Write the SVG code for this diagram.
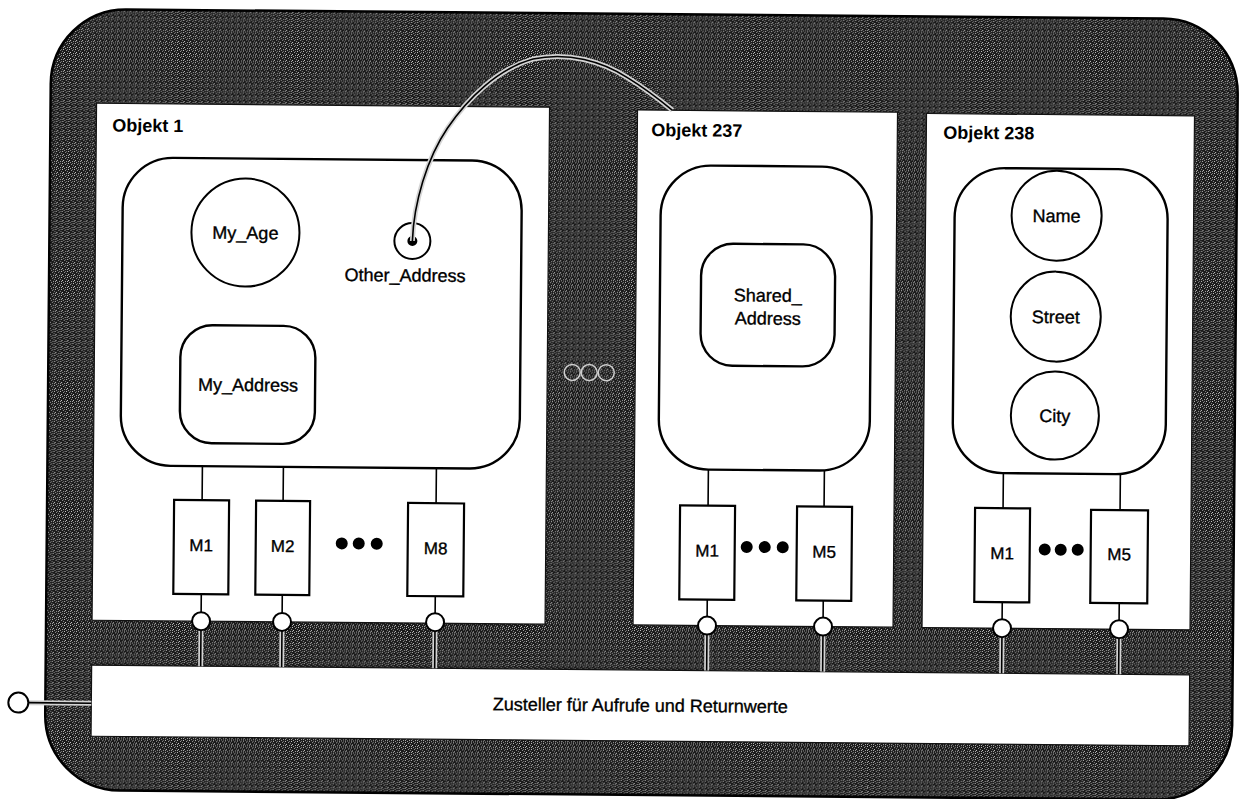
<svg xmlns="http://www.w3.org/2000/svg" width="1239" height="799" viewBox="0 0 1239 799">
<defs>
<pattern id="grain" width="6" height="6" patternUnits="userSpaceOnUse">
<rect width="6" height="6" fill="#1a1a1a"/>
<rect x="0" y="0" width="1" height="1" fill="#c8c8c8"/>
<rect x="3" y="1" width="1" height="1" fill="#9a9a9a"/>
<rect x="1" y="3" width="1" height="1" fill="#d0d0d0"/>
<rect x="4" y="4" width="1" height="1" fill="#aaa"/>
<rect x="5" y="2" width="1" height="1" fill="#888"/>
<rect x="2" y="5" width="1" height="1" fill="#a0a0a0"/>
<rect x="4" y="0" width="1" height="1" fill="#777"/>
<rect x="0" y="4" width="1" height="1" fill="#b0b0b0"/>
</pattern>
<style>
.box{fill:#fff;stroke:#111;stroke-width:1.2}
.inner{fill:#fff;stroke:#000;stroke-width:2.4}
.attr{fill:#fff;stroke:#000;stroke-width:2}
.meth{fill:#fff;stroke:#000;stroke-width:2.2}
.port{fill:#fff;stroke:#000;stroke-width:2}
.dot{fill:#000}
.ln{stroke:#000;stroke-width:1.6;fill:none}
.halo{stroke:#d4d4d4;stroke-width:5;fill:none}
.t{font-family:"Liberation Sans",Arial,Helvetica,sans-serif;font-size:18px;fill:#000;stroke:#000;stroke-width:0.35;text-anchor:middle}
.tb{font-family:"Liberation Sans",Arial,Helvetica,sans-serif;font-size:18px;font-weight:bold;fill:#000}
.tm{font-family:"Liberation Sans",Arial,Helvetica,sans-serif;font-size:17px;fill:#000;stroke:#000;stroke-width:0.35;text-anchor:middle}
</style>
</defs>
<g transform="rotate(0.5 640 400)">
<g id="frame">
<rect x="48" y="14" width="1187" height="781" rx="75" fill="url(#grain)" stroke="#000" stroke-width="2.5"/>
<circle cx="572" cy="373" r="8" fill="none" stroke="#cfcfcf" stroke-width="1.5"/>
<circle cx="589" cy="373" r="8" fill="none" stroke="#cfcfcf" stroke-width="1.5"/>
<circle cx="606" cy="373" r="8" fill="none" stroke="#cfcfcf" stroke-width="1.5"/>
</g>
<g id="objekt1">
<rect class="box" x="94" y="108" width="453" height="517"/>
<text class="tb" x="110" y="136">Objekt 1</text>
<rect class="inner" x="121" y="162" width="399" height="308" rx="50"/>
<circle class="attr" cx="244" cy="236" r="54"/>
<text class="t" x="244" y="242.5">My_Age</text>
<circle class="attr" cx="411" cy="243" r="18"/>
<circle class="dot" cx="411" cy="243" r="5"/>
<text class="t" x="404" y="283.5">Other_Address</text>
<rect class="inner" x="180" y="329" width="135" height="118" rx="32"/>
<text class="t" x="248" y="394.5">My_Address</text>
<rect class="meth" x="175" y="504" width="55" height="94"/>
<text class="tm" x="202.5" y="555">M1</text>
<rect class="meth" x="257" y="504" width="54" height="94"/>
<text class="tm" x="284" y="555">M2</text>
<rect class="meth" x="409" y="505" width="56" height="93"/>
<text class="tm" x="437" y="556">M8</text>
<circle class="dot" cx="343" cy="546" r="6"/>
<circle class="dot" cx="360" cy="546" r="6"/>
<circle class="dot" cx="378" cy="546" r="6"/>
</g>
<g id="objekt237">
<rect class="box" x="635" y="110" width="260" height="515"/>
<text class="tb" x="649" y="136">Objekt 237</text>
<rect class="inner" x="659" y="165" width="211" height="304" rx="50"/>
<rect class="inner" x="700" y="243" width="134" height="122" rx="32"/>
<text class="t" x="767" y="300.5">Shared_</text>
<text class="t" x="767" y="323.5">Address</text>
<rect class="meth" x="681" y="505" width="55" height="94"/>
<text class="tm" x="708.5" y="556">M1</text>
<rect class="meth" x="798" y="505" width="55" height="94"/>
<text class="tm" x="825.5" y="556">M5</text>
<circle class="dot" cx="748" cy="546" r="6"/>
<circle class="dot" cx="766" cy="546" r="6"/>
<circle class="dot" cx="784" cy="546" r="6"/>
</g>
<g id="objekt238">
<rect class="box" x="924" y="111" width="268" height="514"/>
<text class="tb" x="941" y="136">Objekt 238</text>
<rect class="inner" x="953" y="165" width="213" height="305" rx="50"/>
<circle class="attr" cx="1055" cy="212" r="45"/>
<text class="t" x="1055" y="218.5">Name</text>
<circle class="attr" cx="1055" cy="313" r="45"/>
<text class="t" x="1055" y="319.5">Street</text>
<circle class="attr" cx="1055" cy="412" r="44"/>
<text class="t" x="1055" y="418.5">City</text>
<rect class="meth" x="976" y="505" width="55" height="94"/>
<text class="tm" x="1003.5" y="556">M1</text>
<rect class="meth" x="1092" y="506" width="57" height="93"/>
<text class="tm" x="1120.5" y="556">M5</text>
<circle class="dot" cx="1046" cy="546" r="6"/>
<circle class="dot" cx="1062" cy="546" r="6"/>
<circle class="dot" cx="1079" cy="546" r="6"/>
</g>
<g id="dispatcher">
<rect class="box" x="94" y="670" width="1098" height="71"/>
<text class="t" x="643" y="711.5">Zusteller für Aufrufe und Returnwerte</text>
</g>
<g id="connectors">
<path class="halo" d="M411,243 C412,205 425,160 445,130 C465,100 495,70 530,60 C565,52 600,62 625,78 C645,90 660,102 670,110"/>
<path class="ln" stroke-width="2" d="M411,243 C412,205 425,160 445,130 C465,100 495,70 530,60 C565,52 600,62 625,78 C645,90 660,102 670,110"/>
<path class="ln" d="M203,470 V504 M284,470 V504 M437,470 V505 M709,469 V505 M825,469 V505 M1004,470 V505 M1121,470 V506"/>
<path class="ln" d="M203,598 V616 M284,598 V616 M437,598 V615 M709,599 V616 M825,599 V616 M1004,599 V616 M1121,599 V616"/>
<path class="halo" stroke-width="4" d="M203,634 V670 M284,634 V670 M437,633 V670 M709,634 V670 M825,634 V670 M1004,634 V670 M1121,634 V670 M31,708 H94"/>
<path class="ln" d="M203,634 V670 M284,634 V670 M437,633 V670 M709,634 V670 M825,634 V670 M1004,634 V670 M1121,634 V670 M31,708 H94"/>
</g>
<g id="ports">
<circle class="port" cx="203" cy="625" r="9"/>
<circle class="port" cx="284" cy="625" r="9"/>
<circle class="port" cx="437" cy="624" r="9"/>
<circle class="port" cx="709" cy="625" r="9"/>
<circle class="port" cx="825" cy="625" r="9"/>
<circle class="port" cx="1004" cy="625" r="9"/>
<circle class="port" cx="1121" cy="625" r="9"/>
<circle class="port" cx="21" cy="708" r="10"/>
</g>
</g>
</svg>
